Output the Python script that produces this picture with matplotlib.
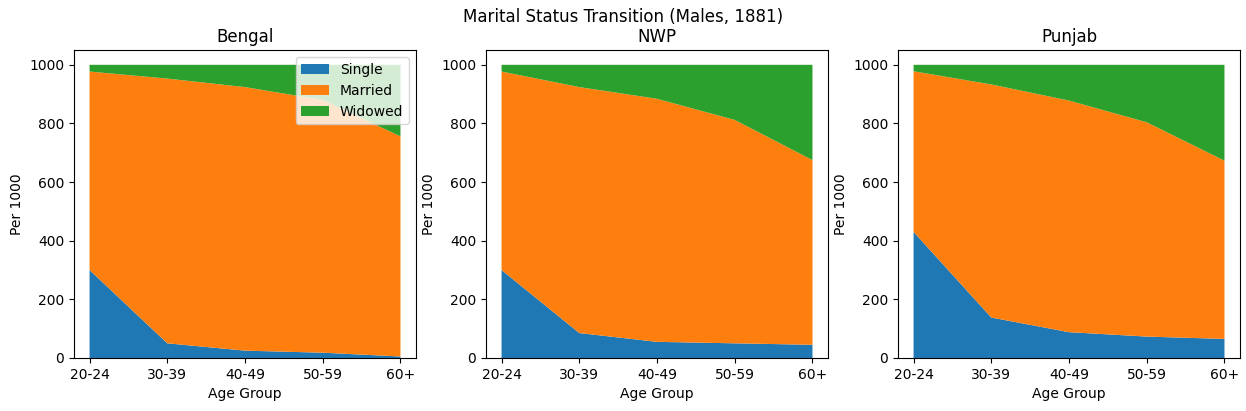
import matplotlib
matplotlib.use('Agg')
import matplotlib.pyplot as plt

# Age groups and per-1000 values
age_groups = ['20-24', '30-39', '40-49', '50-59', '60+']
regions = ['Bengal', 'NWP', 'Punjab']

bengal_single = [300, 50, 25, 18, 5]
bengal_married = [677, 903, 899, 862, 751]
bengal_widowed = [23, 47, 76, 120, 244]

nwp_single = [300, 85, 55, 50, 45]
nwp_married = [677, 839, 829, 762, 630]
nwp_widowed = [23, 76, 116, 188, 325]

punjab_single = [430, 138, 88, 73, 65]
punjab_married = [548, 795, 790, 731, 608]
punjab_widowed = [22, 67, 122, 196, 327]

data = {
    'Bengal': (bengal_single, bengal_married, bengal_widowed),
    'NWP': (nwp_single, nwp_married, nwp_widowed),
    'Punjab': (punjab_single, punjab_married, punjab_widowed),
}
labels = ['Single', 'Married', 'Widowed']

fig, axes = plt.subplots(1, 3, figsize=(12.46, 4.11), dpi=100)

for i, (ax, region) in enumerate(zip(axes, regions)):
    x = range(len(age_groups))
    ax.stackplot(x, *data[region], labels=labels)
    ax.set_xticks(list(x))
    ax.set_xticklabels(age_groups)
    ax.set_title(region, fontsize=12)
    ax.set_xlabel('Age Group')
    ax.set_ylabel('Per 1000')
    if i == 0:
        ax.legend(loc='upper right')

fig.suptitle('Marital Status Transition (Males, 1881)', fontsize=12, y=0.958, va='center')
plt.subplots_adjust(left=0.0594, right=0.9952, top=0.878, bottom=0.129, wspace=0.2047)
plt.savefig('out.png', dpi=100)
